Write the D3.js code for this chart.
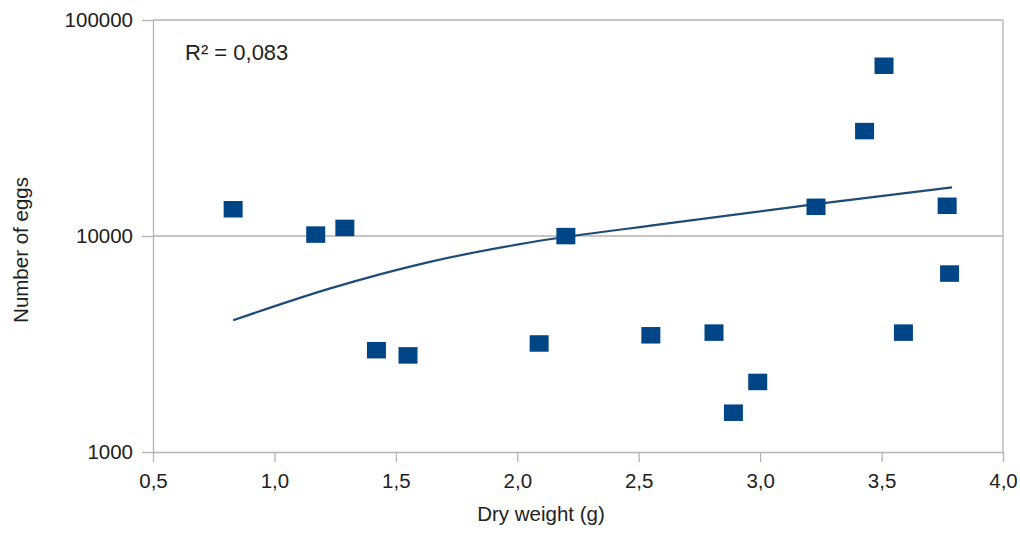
<!DOCTYPE html>
<html>
<head>
<meta charset="utf-8">
<style>
body { margin: 0; background: #fff; }
svg { display: block; font-family: "Liberation Sans", Arial, sans-serif; }
.axis text { fill: #222; font-size: 20.5px; }
.axis line, .axis path { stroke: #b3b3b3; stroke-width: 1.3; }
.grid line { stroke: #b3b3b3; stroke-width: 1.3; }
</style>
</head>
<body>
<svg id="chart" width="1020" height="533"></svg>
<script src="https://d3js.org/d3.v7.min.js"></script>
<script>

// scatter points
var dryWeight = [0.83, 1.17, 1.29, 1.42, 1.55, 2.09, 2.20, 2.55, 2.81, 2.89, 2.99, 3.23, 3.43, 3.51, 3.59, 3.77, 3.78];
var eggs      = [13300, 10150, 10900, 2960, 2800, 3180, 9990, 3470, 3570, 1520, 2110, 13650, 30600, 61400, 3570, 13800, 6700];

// power trend line
var trendX = [0.83, 1.23, 1.64, 2.05, 2.62, 3.22, 3.79];
var trendY = [4070, 5720, 7590, 9330, 11430, 14000, 16790];

var xTicks = [0.5, 1.0, 1.5, 2.0, 2.5, 3.0, 3.5, 4.0];
var yTicks = [1000, 10000, 100000];
var r2Text = "R² = 0,083";
var xTitle = "Dry weight (g)";
var yTitle = "Number of eggs";

var svg = d3.select("#chart"),
  margin = { top: 20, right: 17, bottom: 81, left: 153 },
  width = +svg.attr("width") - margin.left - margin.right,
  height = +svg.attr("height") - margin.top - margin.bottom;

var x = d3.scaleLinear().domain([0.5, 4]).range([0, width]),
  y = d3.scaleLog().domain([1000, 100000]).range([height, 0]);

var g = svg.append("g")
  .attr("transform", "translate(" + margin.left + "," + margin.top + ")");

// horizontal gridlines + right border
g.append("g")
  .attr("class", "grid")
  .selectAll("line")
  .data(yTicks.slice(1))
  .enter().append("line")
  .attr("x1", 0).attr("x2", width)
  .attr("y1", d => y(d)).attr("y2", d => y(d));

g.append("g")
  .attr("class", "grid")
  .append("line")
  .attr("x1", width).attr("x2", width)
  .attr("y1", 0).attr("y2", height);

var xAxis = d3.axisBottom(x)
  .tickValues(xTicks)
  .tickSize(10)
  .tickSizeOuter(0)
  .tickPadding(11)
  .tickFormat(d => d3.format(".1f")(d).replace(".", ","));

var yAxis = d3.axisLeft(y)
  .tickValues(yTicks)
  .tickSize(11)
  .tickSizeOuter(0)
  .tickPadding(9)
  .tickFormat(d => String(d));

g.append("g")
  .attr("class", "axis axis--x")
  .attr("transform", "translate(0," + height + ")")
  .call(xAxis);

g.append("g")
  .attr("class", "axis axis--y")
  .call(yAxis);

svg.selectAll(".axis .tick text").attr("font-family", null);
svg.selectAll(".axis").attr("font-family", null).attr("font-size", null);

// trend line
var line = d3.line()
  .x((d, i) => x(trendX[i]))
  .y(d => y(d))
  .curve(d3.curveMonotoneX);

g.append("path")
  .datum(trendY)
  .attr("fill", "none")
  .attr("stroke", "#1f4b77")
  .attr("stroke-width", 2.2)
  .attr("d", line);

// markers
var mw = 19, mh = 16.5;
g.append("g")
  .selectAll("rect")
  .data(eggs)
  .enter().append("rect")
  .attr("x", (d, i) => x(dryWeight[i]) - mw / 2)
  .attr("y", d => y(d) - mh / 2)
  .attr("width", mw)
  .attr("height", mh)
  .attr("fill", "#004586");

// R² label
g.append("text")
  .attr("x", 32)
  .attr("y", 40)
  .attr("fill", "#222")
  .attr("font-size", "22px")
  .text(r2Text);

// axis titles
svg.append("text")
  .attr("x", 541)
  .attr("y", 521)
  .attr("text-anchor", "middle")
  .attr("fill", "#222")
  .attr("font-size", "20.5px")
  .text(xTitle);

svg.append("text")
  .attr("transform", "translate(28," + 250 + ") rotate(-90)")
  .attr("text-anchor", "middle")
  .attr("fill", "#222")
  .attr("font-size", "20.5px")
  .text(yTitle);

</script>
</body>
</html>
